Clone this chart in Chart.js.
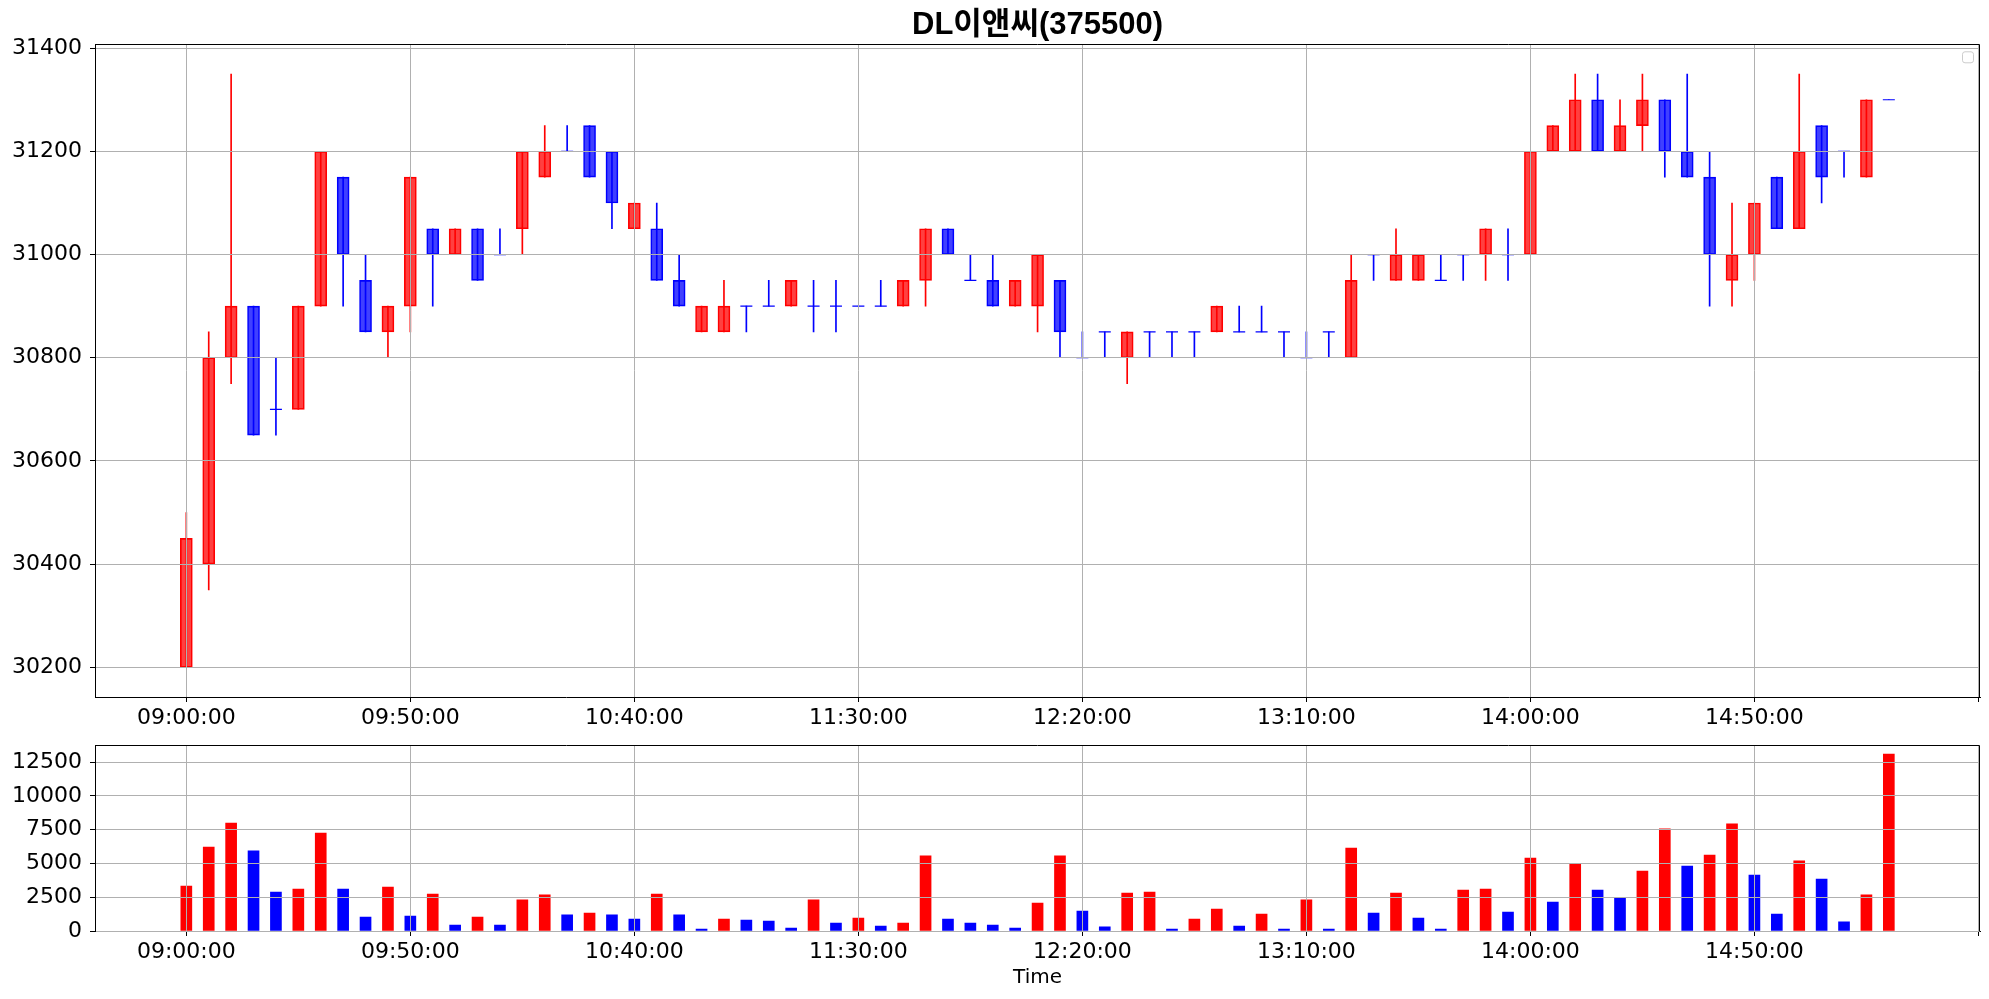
<!DOCTYPE html>
<html>
<head>
<meta charset="utf-8">
<script src="https://cdn.jsdelivr.net/npm/chart.js@4.4.1/dist/chart.umd.min.js"></script>
<style>
html, body { margin: 0; padding: 0; background: #ffffff; }
#c1 { position: absolute; left: 0; top: 0; width: 1989px; height: 740px; }
#c2 { position: absolute; left: 0; top: 740px; width: 1989px; height: 259px; }
</style>
</head>
<body>
<canvas id="c1" width="1989" height="740"></canvas>
<canvas id="c2" width="1989" height="259"></canvas>
<script>
// ---------------- data ----------------
const chartTitle = 'DL이앤씨(375500)';
const xAxisTitle = 'Time';

const times = [
  '09:00','09:05','09:10','09:15','09:20','09:25','09:30','09:35','09:40','09:45',
  '09:50','09:55','10:00','10:05','10:10','10:15','10:20','10:25','10:30','10:35',
  '10:40','10:45','10:50','10:55','11:00','11:05','11:10','11:15','11:20','11:25',
  '11:30','11:35','11:40','11:45','11:50','11:55','12:00','12:05','12:10','12:15',
  '12:20','12:25','12:30','12:35','12:40','12:45','12:50','12:55','13:00','13:05',
  '13:10','13:15','13:20','13:25','13:30','13:35','13:40','13:45','13:50','13:55',
  '14:00','14:05','14:10','14:15','14:20','14:25','14:30','14:35','14:40','14:45',
  '14:50','14:55','15:00','15:05','15:10','15:15','15:20'
];

const opens = [
  30200,30400,30800,30900,30700,30700,30900,31150,30950,30850,
  30900,31050,31000,31050,31000,31050,31150,31200,31250,31200,
  31050,31050,30950,30850,30850,30900,30900,30900,30900,30900,
  30900,30900,30900,30950,31050,30950,30950,30900,30900,30950,
  30800,30850,30800,30850,30850,30850,30850,30850,30850,30850,
  30800,30850,30800,31000,30950,30950,30950,31000,31000,31000,
  31000,31200,31200,31300,31200,31250,31300,31200,31150,30950,
  31000,31150,31050,31250,31200,31150,31300
];
const highs = [
  30500,30850,31350,30900,30800,30900,31200,31150,31000,30900,
  31150,31050,31050,31050,31050,31200,31250,31250,31250,31200,
  31100,31100,31000,30900,30950,30900,30950,30950,30950,30950,
  30900,30950,30950,31050,31050,31000,31000,30950,31000,30950,
  30850,30850,30850,30850,30850,30850,30900,30900,30900,30850,
  30850,30850,31000,31000,31050,31000,31000,31000,31050,31050,
  31200,31250,31350,31350,31300,31350,31300,31350,31200,31100,
  31100,31150,31350,31250,31200,31300,31300
];
const lows = [
  30200,30350,30750,30650,30650,30700,30900,30900,30850,30800,
  30850,30900,31000,30950,31000,31000,31150,31200,31150,31050,
  31050,30950,30900,30850,30850,30850,30900,30900,30850,30850,
  30900,30900,30900,30900,31000,30950,30900,30900,30850,30800,
  30800,30800,30750,30800,30800,30800,30850,30850,30850,30800,
  30800,30800,30800,30950,30950,30950,30950,30950,30950,30950,
  31000,31200,31200,31200,31200,31200,31150,31150,30900,30900,
  30950,31050,31050,31100,31150,31150,31300
];
const closes = [
  30450,30800,30900,30650,30700,30900,31200,31000,30850,30900,
  31150,31000,31050,30950,31000,31200,31200,31200,31150,31100,
  31100,30950,30900,30900,30900,30900,30900,30950,30900,30900,
  30900,30900,30950,31050,31000,30950,30900,30950,31000,30850,
  30800,30850,30850,30850,30850,30850,30900,30850,30850,30850,
  30800,30850,30950,31000,31000,31000,30950,31000,31050,31000,
  31200,31250,31300,31200,31250,31300,31200,31150,31000,31000,
  31100,31050,31200,31150,31200,31300,31300
];

const volumes = [
  3330,6220,8000,5930,2890,3110,7260,3110,1040,3260,
  1110,2740,440,1040,440,2300,2670,1190,1330,1190,
  890,2740,1190,150,890,810,740,220,2300,590,
  960,370,590,5560,890,590,440,220,2070,5560,
  1480,300,2810,2890,150,890,1630,370,1260,150,
  2300,150,6150,1330,2810,960,150,3040,3110,1410,
  5410,2150,4960,3040,2440,4440,7560,4810,5630,7930,
  4150,1260,5190,3850,670,2670,13100
];
// 1 = red volume bar, 0 = blue volume bar (as drawn in the reference)
const volumeUp = [
  1,1,1,0,0,1,1,0,0,1,
  0,1,0,1,0,1,1,0,1,0,
  0,1,0,0,1,0,0,0,1,0,
  1,0,1,1,0,0,0,0,1,1,
  0,0,1,1,0,1,1,0,1,0,
  1,0,1,0,1,0,0,1,1,0,
  1,0,1,0,0,1,1,0,1,1,
  0,0,1,0,0,1,1
];

const xTickPositions = [0,10,20,30,40,50,60,70,80];
const xTickLabels = ['09:00:00','09:50:00','10:40:00','11:30:00','12:20:00','13:10:00','14:00:00','14:50:00',''];
const priceTicks = [30200,30400,30600,30800,31000,31200,31400];
const volumeTicks = [0,2500,5000,7500,10000,12500];

// ---------------- styles ----------------
const RED = '#ff0000', BLUE = '#0000ff';
const RED_FILL = 'rgba(255,0,0,0.75)', BLUE_FILL = 'rgba(0,0,255,0.75)';
const GRID = '#b0b0b0';
const TICK_FONT = { family: "'DejaVu Sans', sans-serif", size: 22 };

const isUp = opens.map((o, i) => closes[i] > o);
const bodies = [], wicks = [], dojis = [];
for (let i = 0; i < opens.length; i++) {
  wicks.push({ x: i, y: [lows[i], highs[i]], i });
  if (opens[i] !== closes[i]) bodies.push({ x: i, y: [opens[i], closes[i]], i });
  else dojis.push({ x: i, y: opens[i], i });
}
const volData = volumes.map((v, i) => ({ x: i, y: v, i }));

const frame = {
  id: 'frame',
  afterDraw(chart) {
    const { ctx, chartArea: a } = chart;
    ctx.save();
    ctx.strokeStyle = '#000';
    ctx.lineWidth = 1;
    ctx.beginPath();
    ctx.moveTo(Math.round(a.left) + 0.5, Math.round(a.top) + 0.5);
    ctx.lineTo(Math.round(a.right) - 0.5, Math.round(a.top) + 0.5);
    ctx.lineTo(Math.round(a.right) - 0.5, Math.round(a.bottom) + 0.5);
    ctx.stroke();
    ctx.restore();
  }
};
const emptyLegend = {
  id: 'emptyLegend',
  afterDraw(chart) {
    const { ctx, chartArea: a } = chart;
    const s = 11, x = a.right - 18, y = a.top + 7;
    ctx.save();
    ctx.strokeStyle = '#cccccc';
    ctx.lineWidth = 1;
    ctx.beginPath();
    ctx.roundRect(x + 0.5, y + 0.5, s, s, 2.5);
    ctx.stroke();
    ctx.restore();
  }
};

function noPad(s) { s.paddingTop = 0; s.paddingBottom = 0; s.paddingLeft = 0; s.paddingRight = 0; }

function xScale(height, withTitle) {
  return {
    type: 'linear',
    min: -4.077,
    max: 80.07,
    bounds: 'data',
    offset: false,
    afterBuildTicks: s => { s.ticks = xTickPositions.map(v => ({ value: v })); },
    afterFit: s => { s.height = height; noPad(s); },
    grid: { color: GRID, lineWidth: 1, tickColor: '#000', tickLength: 5, offset: false, z: 1 },
    border: { display: true, color: '#000', width: 1, z: 1 },
    ticks: {
      autoSkip: false, maxRotation: 0, minRotation: 0, padding: 3, color: '#000', font: TICK_FONT, z: 1,
      callback: v => { const k = xTickPositions.indexOf(v); return k >= 0 ? xTickLabels[k] : ''; }
    },
    title: withTitle ? {
      display: true, text: xAxisTitle, color: '#000',
      font: { family: "'DejaVu Sans', sans-serif", size: 20, lineHeight: 1.2 },
      padding: { top: 0, bottom: 9 }
    } : { display: false }
  };
}
function yScale(min, max, tickList) {
  return {
    type: 'linear',
    min, max,
    bounds: 'data',
    afterBuildTicks: s => { s.ticks = tickList.map(v => ({ value: v })); },
    afterFit: s => { s.width = 95; noPad(s); },
    grid: { color: GRID, lineWidth: 1, tickColor: '#000', tickLength: 5, z: 1 },
    border: { display: true, color: '#000', width: 1, z: 1 },
    ticks: { padding: 8, color: '#000', font: TICK_FONT, z: 1, callback: v => String(v) }
  };
}

// ---------------- price chart ----------------
new Chart(document.getElementById('c1'), {
  type: 'bar',
  data: {
    datasets: [
      {
        label: 'body', data: bodies, grouped: false, order: 2,
        barThickness: 12, borderWidth: 1, borderSkipped: false,
        backgroundColor: c => (c.raw && isUp[c.raw.i]) ? RED_FILL : BLUE_FILL,
        borderColor: c => (c.raw && isUp[c.raw.i]) ? RED : BLUE
      },
      {
        label: 'wick', data: wicks, grouped: false, order: 1,
        barThickness: 1, borderWidth: 0,
        backgroundColor: c => (c.raw && isUp[c.raw.i]) ? RED : BLUE
      },
      {
        type: 'line', label: 'doji', data: dojis, order: 0,
        showLine: false, pointStyle: 'line', pointRadius: 6, pointHoverRadius: 6,
        pointBorderWidth: 1.2,
        pointBorderColor: c => (c.raw && isUp[c.raw.i]) ? RED : BLUE,
        borderColor: BLUE, backgroundColor: BLUE
      }
    ]
  },
  options: {
    responsive: false,
    animation: false,
    events: [],
    layout: { padding: { left: 0, right: 9, top: 0, bottom: 0 } },
    scales: {
      x: xScale(43, false),
      y: yScale(30142.5, 31407.5, priceTicks)
    },
    plugins: {
      legend: { display: false },
      tooltip: { enabled: false },
      title: {
        display: true, text: chartTitle, fullSize: false, color: '#000',
        font: { family: "'Liberation Sans', 'Noto Sans CJK KR', sans-serif", size: 31, weight: 'bold', lineHeight: 1.2 },
        padding: { top: 7.1, bottom: 0 }
      }
    }
  },
  plugins: [frame, emptyLegend]
});

// ---------------- volume chart ----------------
new Chart(document.getElementById('c2'), {
  type: 'bar',
  data: {
    datasets: [{
      label: 'volume', data: volData, grouped: false,
      barThickness: 11, borderWidth: 0,
      backgroundColor: c => (c.raw && volumeUp[c.raw.i]) ? RED : BLUE
    }]
  },
  options: {
    responsive: false,
    animation: false,
    events: [],
    layout: { padding: { left: 0, right: 9, top: 5.3, bottom: 0 } },
    scales: {
      x: xScale(68, true),
      y: yScale(0, 13755, volumeTicks)
    },
    plugins: { legend: { display: false }, tooltip: { enabled: false }, title: { display: false } }
  },
  plugins: [frame]
});
</script>
</body>
</html>
